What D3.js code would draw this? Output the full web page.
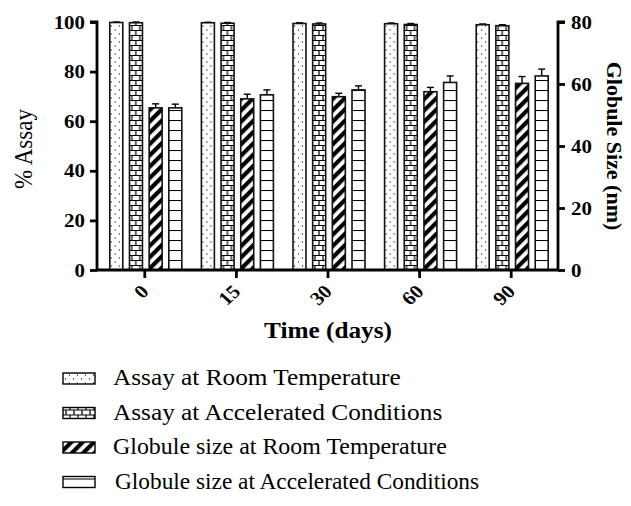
<!DOCTYPE html>
<html>
<head>
<meta charset="utf-8">
<script src="https://cdn.jsdelivr.net/npm/d3@7"></script>
<style>
body{margin:0;background:#fff;}
text{font-family:"Liberation Serif","Times New Roman",serif;fill:#000;}
</style>
</head>
<body>
<svg width="631" height="506"></svg>
<script>
var width = 631, height = 506;
var days = ["0","15","30","60","90"];
var assayRT = [99.8, 99.7, 99.4, 99.3, 98.9];
var assayRTErr = [0.2, 0.2, 0.3, 0.3, 0.3];
var assayAC = [99.7, 99.5, 99.2, 99.0, 98.5];
var assayACErr = [0.3, 0.3, 0.4, 0.4, 0.4];
var globRT = [52.3, 55.2, 55.9, 57.5, 60.2];
var globRTErr = [1.3, 1.5, 1.1, 1.4, 2.2];
var globAC = [52.3, 56.5, 58.1, 60.5, 62.6];
var globACErr = [1.2, 1.6, 1.3, 2.1, 2.2];
var leftTicks = [0,20,40,60,80,100];
var rightTicks = [0,20,40,60,80];
var seriesNames = ["Assay at Room Temperature","Assay at Accelerated Conditions","Globule size at Room Temperature","Globule size at Accelerated Conditions"];

var svg = d3.select("svg");
var defs = svg.append("defs");

// fill patterns
var pDots = defs.append("pattern").attr("id","dots").attr("patternUnits","userSpaceOnUse")
    .attr("width",8).attr("height",8);
pDots.append("rect").attr("width",8).attr("height",8).attr("fill","#fff");
pDots.append("circle").attr("cx",1.5).attr("cy",2).attr("r",0.7).attr("fill","#222");
pDots.append("circle").attr("cx",5.5).attr("cy",6).attr("r",0.7).attr("fill","#222");

var pBrick = defs.append("pattern").attr("id","brick").attr("patternUnits","userSpaceOnUse")
    .attr("width",8).attr("height",10);
pBrick.append("rect").attr("width",8).attr("height",10).attr("fill","#fff");
pBrick.append("path").attr("d","M0,0.5H8M0,5.5H8M2,0.5V5.5M6,5.5V10.5")
    .attr("stroke","#000").attr("stroke-width",1.2).attr("fill","none");

var pDiag = defs.append("pattern").attr("id","diag").attr("patternUnits","userSpaceOnUse")
    .attr("width",8).attr("height",8).attr("patternTransform","rotate(45)");
pDiag.append("rect").attr("width",8).attr("height",8).attr("fill","#fff");
pDiag.append("rect").attr("x",0).attr("width",4.2).attr("height",8).attr("fill","#000");

var pHoriz = defs.append("pattern").attr("id","horiz").attr("patternUnits","userSpaceOnUse")
    .attr("width",8).attr("height",10);
pHoriz.append("rect").attr("width",8).attr("height",10).attr("fill","#fff");
pHoriz.append("path").attr("d","M0,0.5H8").attr("stroke","#000").attr("stroke-width",1.1);

var fills = ["url(#dots)","url(#brick)","url(#diag)","url(#horiz)"];

// scales
var x = d3.scaleBand().domain(days).range([99,557]);
var inner = d3.scaleBand().domain(d3.range(4)).range([0,72]).paddingInner(0.34);
var yL = d3.scaleLinear().domain([0,100]).range([270,22]);
var yR = d3.scaleLinear().domain([0,80]).range([270,22]);

var series = [
  {vals:assayRT, err:assayRTErr, y:yL},
  {vals:assayAC, err:assayACErr, y:yL},
  {vals:globRT, err:globRTErr, y:yR},
  {vals:globAC, err:globACErr, y:yR}
];

var groups = svg.selectAll(".grp").data(days).enter().append("g")
    .attr("class","grp")
    .attr("transform", d => "translate(" + (x(d) + x.bandwidth()/2 - 35) + ",0)");

series.forEach(function(s, si){
  var cx = inner(si) + inner.bandwidth()/2;
  groups.append("line")
    .attr("x1", cx).attr("x2", cx)
    .attr("y1", (d,i) => s.y(s.vals[i]))
    .attr("y2", (d,i) => s.y(s.vals[i] + s.err[i]))
    .attr("stroke","#000").attr("stroke-width",1.4);
  groups.append("line")
    .attr("x1", cx - 3.5).attr("x2", cx + 3.5)
    .attr("y1", (d,i) => s.y(s.vals[i] + s.err[i]))
    .attr("y2", (d,i) => s.y(s.vals[i] + s.err[i]))
    .attr("stroke","#000").attr("stroke-width",1.4);
  groups.append("rect")
    .attr("x", inner(si))
    .attr("width", inner.bandwidth())
    .attr("y", (d,i) => s.y(s.vals[i]))
    .attr("height", (d,i) => s.y(0) - s.y(s.vals[i]))
    .attr("fill", fills[si])
    .attr("stroke","#111").attr("stroke-width",1.6);
});

// axes
var axL = svg.append("g").attr("transform","translate(97,0)")
    .call(d3.axisLeft(yL).tickValues(leftTicks).tickSize(7).tickPadding(4));
var axR = svg.append("g").attr("transform","translate(558,0)")
    .call(d3.axisRight(yR).tickValues(rightTicks).tickSize(7).tickPadding(6));
var axX = svg.append("g").attr("transform","translate(0,270)")
    .call(d3.axisBottom(x).tickSize(8).tickSizeOuter(0));

[axL, axR, axX].forEach(function(a){
  a.select(".domain").attr("stroke","#000").attr("stroke-width",2.8);
  a.selectAll(".tick line").attr("stroke","#000").attr("stroke-width",2.8);
  a.selectAll("text").style("font-size","19px").style("font-weight","bold")
    .style("font-family","'Liberation Serif',serif");
});
axL.select(".domain").attr("d","M0,271V22H-7");
axR.select(".domain").attr("d","M0,271V22H7");
axX.select(".domain").attr("d","M96,0H559");

// the source figure is slightly stretched horizontally
axL.selectAll(".tick text").attr("x",null)
  .attr("transform","translate(-12,0) scale(1.1,1)");
axR.selectAll(".tick text").attr("x",null)
  .attr("transform","translate(13,0) scale(1.1,1)");
axX.selectAll(".tick text")
  .attr("y",0).attr("dy","0.35em")
  .attr("text-anchor","end")
  .attr("transform","translate(0,18) scale(1.1,1) rotate(-45)");

// titles
svg.append("text").attr("transform","translate(32,149) scale(1.1,1) rotate(-90)")
  .attr("text-anchor","middle").style("font-size","23px").text("% Assay");
svg.append("text").attr("transform","translate(607,146) rotate(90)")
  .attr("text-anchor","middle").style("font-size","22px").style("font-weight","bold")
  .text("Globule Size (nm)");
svg.append("text").attr("transform","translate(328,338) scale(1.1,1)")
  .attr("text-anchor","middle").style("font-size","23px").style("font-weight","bold")
  .text("Time (days)");

// legend
var legX = [113, 113, 113, 115];
var legScale = [1.1, 1.1, 1.04, 1.015];
var leg = svg.selectAll(".leg").data(seriesNames).enter().append("g")
  .attr("class","leg")
  .attr("transform",(d,i) => "translate(0," + (385 + i*34.5) + ")");
leg.append("rect").attr("x",63).attr("y",-12).attr("width",32).attr("height",11)
  .attr("fill",(d,i) => fills[i]).attr("stroke","#000").attr("stroke-width",1.4);
leg.append("text")
  .attr("transform",(d,i) => "translate(" + legX[i] + ",0) scale(" + legScale[i] + ",1)")
  .style("font-size","23px").text(d => d);
</script>
</body>
</html>
